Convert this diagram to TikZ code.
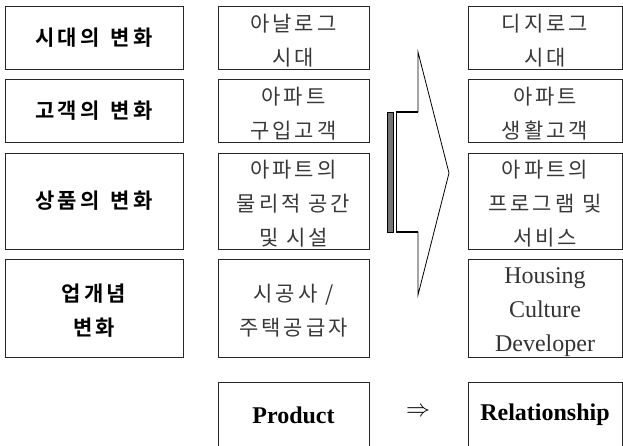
\documentclass[tikz,border=0pt]{standalone}
\usepackage{fontspec}
\setmainfont{Liberation Serif}
\newfontfamily\krfont[LetterSpace=14]{Noto Sans CJK KR}
\newfontfamily\krbold[LetterSpace=15]{Noto Sans CJK KR Bold}
\usetikzlibrary{calc}
\def\lw{\rule{0pt}{23.5pt}}

\begin{document}
\begin{tikzpicture}[x=1pt, y=-1pt,
		box/.style={draw=black!85, line width=0.8pt, inner sep=0pt, align=center},
		leftbox/.style={box, minimum width=178pt, font=\krbold\fontsize{21}{34}\selectfont},
		midbox/.style={box, minimum width=151pt, text=black!78, font=\krfont\fontsize{21}{34}\selectfont},
		rightbox/.style={box, minimum width=154pt, text=black!78, font=\krfont\fontsize{21}{34}\selectfont},
		engbox/.style={box, minimum width=154pt, text=black!80, font=\fontsize{24}{34}\selectfont},
		wordbox/.style={box, minimum height=66pt, font=\bfseries\fontsize{24}{28}\selectfont}]
		%%%%% START %%%%%
		\useasboundingbox (0, 0) rectangle (623, 446);
		
		% left column
		\node[leftbox, minimum height=63pt] (era) at (94, 37.5) {시대의\hspace{3pt} 변화};
		\node[leftbox, minimum height=63pt] (customer) at (94, 110.5) {고객의\hspace{3pt} 변화};
		\node[leftbox, minimum height=96pt] (goods) at (94, 201) {상품의\hspace{3pt} 변화};
		\node[leftbox, minimum height=98pt] (concept) at (94, 308) {\lw 업개념\\변화};
		
		% middle column
		\node[midbox, minimum height=63pt] (analog) at (293.5, 37.5) {\lw 아날로그\\시대};
		\node[midbox, minimum height=63pt] (buyer) at (293.5, 110.5) {\lw 아파트\\구입고객};
		\node[midbox, minimum height=96pt] (space) at (293.5, 201) {\lw 아파트의\\물리적 공간\\및 시설};
		\node[midbox, minimum height=98pt] (builder) at (293.5, 308) {\lw 시공사 /\\주택공급자};
		
		% right column
		\node[rightbox, minimum height=63pt] (digital) at (545, 37.5) {\lw 디지로그\\시대};
		\node[rightbox, minimum height=63pt] (living) at (545, 110.5) {\lw 아파트\\생활고객};
		\node[rightbox, minimum height=96pt] (program) at (545, 201) {\lw 아파트의\\프로그램 및\\서비스};
		\node[engbox, minimum height=98pt] (developer) at (545, 308) {\lw Housing\\Culture\\Developer};
		
		% bottom row
		\node[wordbox, minimum width=151pt] (prodword) at (293.5, 415) {Product};
		\node[wordbox, minimum width=154pt] (relword) at (545, 415) {Relationship};
		\node[inner sep=0pt] (arrowsym) at (418, 412) {\scalebox{2.4}{$\Rightarrow$}};
		
		% big striped arrow
		\draw[fill=black!55, line width=0.6pt] (387.5, 112) rectangle (393, 232);
		\draw[line width=0.8pt] (396, 112) -- (396, 232);
		\draw[line width=0.8pt, line join=miter] (396, 112) -- (418, 112) -- (418, 52) -- (449, 173) -- (418, 295) -- (418, 232) -- (396, 232);
		\draw[line width=1.6pt] (396, 112) -- (418.4, 112);
		\draw[line width=1.6pt] (396, 232) -- (418.4, 232);
		
		%%%%% END %%%%%
	\end{tikzpicture}
\end{document}
